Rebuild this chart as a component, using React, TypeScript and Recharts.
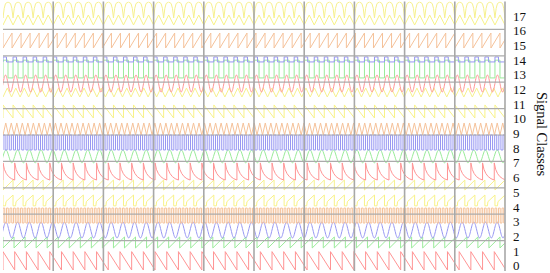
import { LineChart, Line, XAxis, YAxis, ReferenceLine } from "recharts";

const classTicks = [0, 1, 2, 3, 4, 5, 6, 7, 8, 9, 10, 11, 12, 13, 14, 15, 16, 17];
const timeGrid = [1, 2, 3, 4, 5, 6, 7, 8, 9, 10];
const levelGrid = [1.7, 3.5, 5.3, 7.1, 8.9, 10.7, 12.5, 14.3, 16.1];

const palette = ["#ff9494", "#9aeb9a", "#9696f2", "#f5c29a", "#f8f288", "#f6f08e"];

// one cycle of each waveform, [phase, level] pairs
const sawUp = [[0, 0], [1, 1]];
const sawDown = [[0, 1], [1, 0]];
const sine = [[0, 0.5], [0.125, 0.85], [0.25, 1], [0.375, 0.85], [0.5, 0.5], [0.625, 0.15], [0.75, 0], [0.875, 0.15]];
const triangle = [[0, 0], [0.5, 1]];
const square = [[0, 1], [0.5, 1], [0.5, 0], [1, 0]];
const pulse = [[0, 1], [0.35, 1], [0.35, 0], [1, 0]];
const sharkFin = [[0, 1], [0.12, 0.62], [0.28, 0.38], [0.48, 0.2], [0.72, 0.08], [1, 0]];
const stepped = [[0, 0.1], [0.25, 0.1], [0.3, 0.45], [1, 1]];
const peaked = [[0, 0], [0.12, 0.6], [0.25, 0.9], [0.5, 1], [0.75, 0.9], [0.88, 0.6]];

const signalLows = [-0.3, 1.2, 1.88, 2.9, 3.99, 5.15, 5.83, 7.0, 7.88, 8.9, 10.06, 11.49, 11.83, 12.79, 13.88, 14.83, 16.4, 16.88];
const signalHighs = [0.95, 1.95, 2.97, 3.92, 4.81, 5.83, 7.0, 7.88, 8.9, 9.72, 10.95, 12.1, 12.99, 14.0, 14.22, 15.85, 17.08, 17.97];
const signalPeriods = [0.233, 0.22, 0.233, 0.07, 0.2, 0.2, 0.233, 0.233, 0.083, 0.11, 0.2, 0.17, 0.2, 0.2, 0.2, 0.18, 0.2, 0.2];
const signalShapes = [sawDown, sawUp, sine, square, stepped, sawUp, sharkFin, sine, square, triangle, sawDown, triangle, sine, square, pulse, sawUp, triangle, peaked];

function buildSignal(i: number) {
  const lo = signalLows[i];
  const hi = signalHighs[i];
  const period = signalPeriods[i];
  const shape = signalShapes[i];
  const pts: { x: number; y: number }[] = [];
  for (let k = -1; k * period <= 10 + period; k++) {
    for (const [p, l] of shape) {
      pts.push({ x: (k + p) * period, y: lo + l * (hi - lo) });
    }
  }
  return pts;
}

const signals = classTicks.map((c) => ({
  id: c,
  color: palette[c % palette.length],
  smooth: signalShapes[c] === sine,
  data: buildSignal(c),
}));

export default function App() {
  return (
    <div style={{ width: 550, height: 273 }}>
      <style>{"body{margin:0}"}</style>
      <LineChart width={550} height={273} margin={{ top: 1.5, right: 0, bottom: 2, left: 3 }}>
        <XAxis dataKey="x" type="number" domain={[0, 10]} hide allowDataOverflow />
        <YAxis
          orientation="right"
          type="number"
          domain={[-0.37, 18]}
          ticks={classTicks}
          interval={0}
          allowDataOverflow
          width={45}
          axisLine={false}
          tickLine={false}
          tick={{ fill: "#111", fontSize: 13, fontFamily: "Liberation Serif, serif" }}
          label={() => (
            <text
              x={542}
              y={134}
              transform="rotate(90 542 134)"
              textAnchor="middle"
              dominantBaseline="central"
              fill="#111"
              fontSize={14.5}
              fontFamily="Liberation Serif, serif"
            >
              Signal Classes
            </text>
          )}
        />
        {signals.map((s) => (
          <Line
            key={s.id}
            data={s.data}
            dataKey="y"
            type={s.smooth ? "monotone" : "linear"}
            stroke={s.color}
            strokeWidth={1}
            dot={false}
            activeDot={false}
            isAnimationActive={false}
          />
        ))}
        {levelGrid.map((v) => (
          <ReferenceLine key={"h" + v} y={v} stroke="#ababab" strokeWidth={1.2} />
        ))}
        {timeGrid.map((v) => (
          <ReferenceLine key={"v" + v} x={v} stroke="#a8a8a8" strokeWidth={1.6} />
        ))}
      </LineChart>
    </div>
  );
}
